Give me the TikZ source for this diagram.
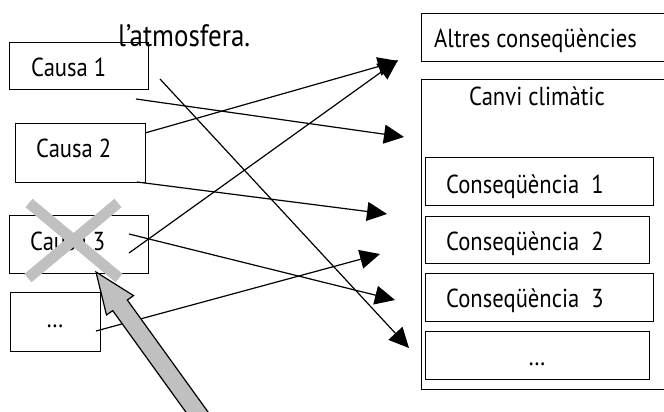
\documentclass[tikz,border=0pt]{standalone}
\usepackage{fontspec}
\setmainfont{PT Sans}[FakeStretch=0.87]
\usetikzlibrary{arrows.meta}
\definecolor{xgray}{RGB}{192,192,192}
\begin{document}
\begin{tikzpicture}[x=1pt,y=-1pt,
  box/.style={draw, line width=1.3pt, anchor=north west, inner sep=0pt},
  txt/.style={anchor=base west, inner sep=0pt, font=\fontsize{26}{30}\selectfont},
  dots/.style={anchor=base, inner sep=0pt, font=\fontsize{26}{30}\selectfont},
  conn/.style={line width=1.2pt, -{Triangle[length=20pt,width=19pt]}},
  cross/.style={line width=11pt, draw=xgray, line cap=butt},
  bigarrow/.style={fill=xgray, draw=black, line width=1.2pt, line join=miter}
]
\useasboundingbox (0,0) rectangle (664,412);
\clip (0,0) rectangle (664,412);

% title fragment
\node[txt, font=\fontsize{31}{36}\selectfont] (atm) at (118,47) {l’atmosfera.};

% left boxes
\node[box, minimum width=139pt, minimum height=47pt] (c1) at (9,42) {};
\node[box, minimum width=130.5pt, minimum height=58.5pt] (c2) at (14.5,123) {};
\node[box, minimum width=139pt, minimum height=58pt] (c3) at (9,215) {};
\node[box, minimum width=90pt, minimum height=59pt] (c4) at (10,292) {};
\node[txt] (t1) at (31,77) {Causa 1};
\node[txt] (t2) at (36,157) {Causa 2};
\node[txt] (t3) at (30,250) {Causa 3};
\node[dots] (t4) at (55,327) {…};

% right boxes
\node[box, minimum width=260pt, minimum height=48pt] (alt) at (421,13) {};
\node[box, minimum width=260pt, minimum height=310pt] (cc) at (421,79) {};
\node[box, minimum width=228pt, minimum height=48pt] (q1) at (425,157) {};
\node[box, minimum width=224pt, minimum height=47pt] (q2) at (425,216) {};
\node[box, minimum width=228pt, minimum height=48pt] (q3) at (425,273) {};
\node[box, minimum width=224pt, minimum height=48pt] (q4) at (425,331) {};
\node[txt] (talt) at (434,48) {Altres conseqüències};
\node[txt] (tcc) at (469,106) {Canvi climàtic};
\node[txt] (tq1) at (446,193) {Conseqüència\ \ 1};
\node[txt] (tq2) at (446,250) {Conseqüència\ \ 2};
\node[txt] (tq3) at (446,307) {Conseqüència\ \ 3};
\node[dots] (tq4) at (537,365) {…};

% connector end points
\coordinate (a1s) at (160,79);  \coordinate (a1e) at (409,348);
\coordinate (a2s) at (136,99);  \coordinate (a2e) at (404,137);
\coordinate (a3s) at (145,133); \coordinate (a3e) at (398,61);
\coordinate (a4s) at (137,182); \coordinate (a4e) at (387,214);
\coordinate (a5s) at (129,253); \coordinate (a5e) at (398,60);
\coordinate (a6s) at (129,234); \coordinate (a6e) at (395,300);
\coordinate (a7s) at (96,331);  \coordinate (a7e) at (380,254);

\draw[conn] (a1s) -- (a1e);
\draw[conn] (a2s) -- (a2e);
\draw[conn] (a3s) -- (a3e);
\draw[conn] (a4s) -- (a4e);
\draw[conn] (a5s) -- (a5e);
\draw[conn] (a6s) -- (a6e);
\draw[conn] (a7s) -- (a7e);

% gray cross over Causa 3
\draw[cross] (29,203) -- (119,278);
\draw[cross] (118,203) -- (28,278);

% big gray arrow
\coordinate (tip) at (96,272);
\draw[bigarrow] (tip) -- (133.5,295.6) -- (127.3,300.0) -- (220.9,429.8)
  -- (206.3,440.4) -- (112.7,310.6) -- (106.5,315.0) -- cycle;
\end{tikzpicture}
\end{document}
